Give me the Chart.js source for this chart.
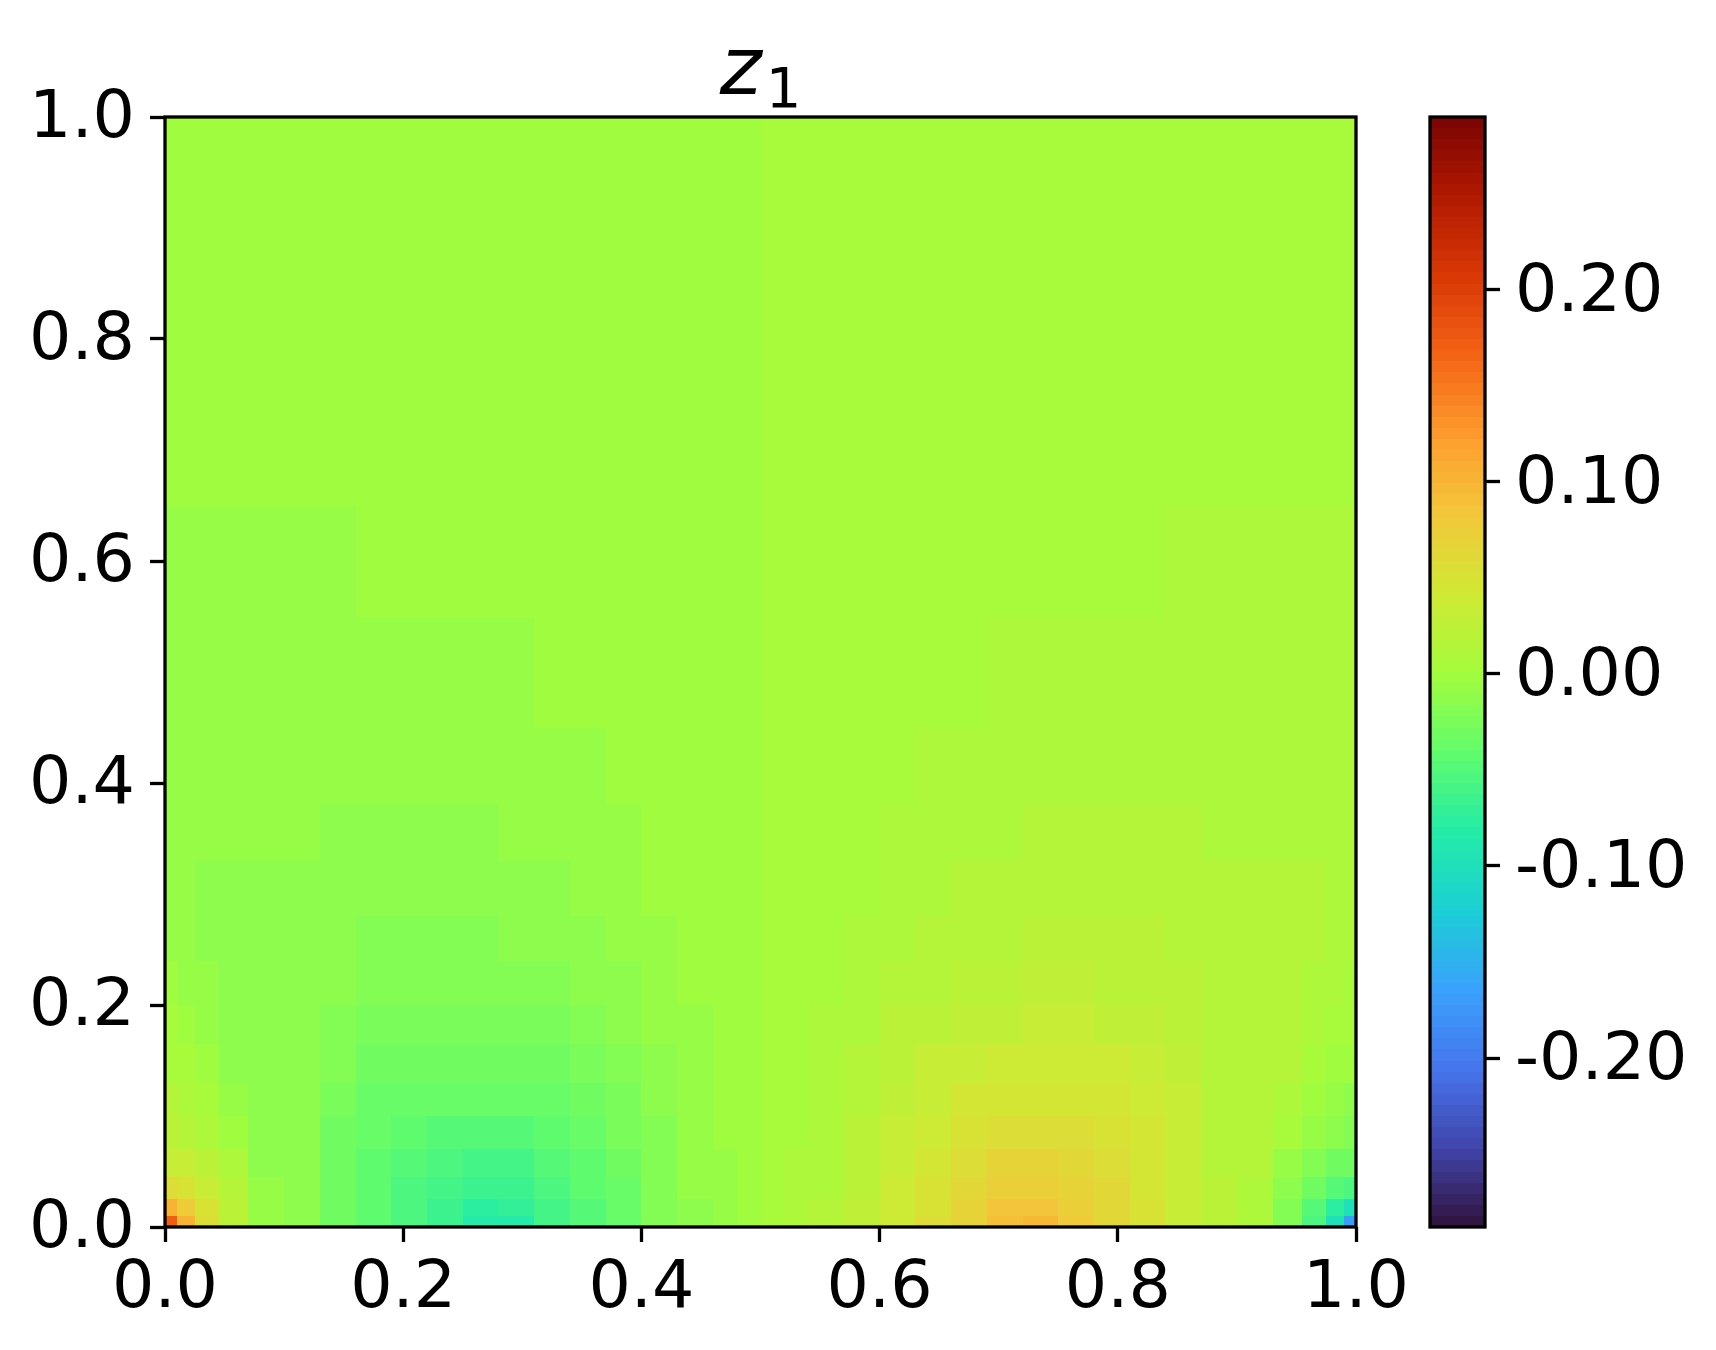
<!DOCTYPE html>
<html>
<head>
<meta charset="utf-8">
<script src="https://cdn.jsdelivr.net/npm/chart.js@4.4.1/dist/chart.umd.min.js"></script>
<style>
  html, body { margin: 0; padding: 0; background: #fff; }
  #wrap { position: relative; width: 1716px; height: 1350px; }
  canvas { position: absolute; top: 0; }
  #mainChart { left: 0; }
  #cbarChart { left: 1400px; }
</style>
</head>
<body>
<div id="wrap">
  <canvas id="mainChart" width="1440" height="1350"></canvas>
  <canvas id="cbarChart" width="316" height="1350"></canvas>
</div>
<script>
// --- DATA ---
// cell edges of the z1 field (non uniform, finer near the bottom and corners)
const xEdges = [0, 0.01, 0.025, 0.045, 0.07, 0.1, 0.13, 0.16, 0.19, 0.22, 0.25, 0.28, 0.31, 0.34, 0.37, 0.4, 0.43, 0.46, 0.48, 0.5,
                0.52, 0.54, 0.57, 0.6, 0.63, 0.66, 0.69, 0.72, 0.75, 0.78, 0.81, 0.84, 0.87, 0.9, 0.93, 0.955, 0.975, 0.99, 1.0];
const yEdges = [0, 0.01, 0.025, 0.045, 0.07, 0.1, 0.13, 0.165, 0.2, 0.24, 0.28, 0.33, 0.38, 0.45, 0.55, 0.65, 0.8, 1.0];
const xTicks = [0, 0.2, 0.4, 0.6, 0.8, 1.0];
const yTicks = [0, 0.2, 0.4, 0.6, 0.8, 1.0];
const cbarTicks = [-0.2, -0.1, 0, 0.1, 0.2];
const vMin = -0.288, vMax = 0.29, nLevels = 100;

// z1 values, one row per y band (bottom first), 38 cells per row (left -> right)
const z1 = [
  [0.17, 0.105, 0.055, 0.022, -0.007, -0.016, -0.030, -0.043, -0.055, -0.068, -0.084, -0.080, -0.060, -0.047, -0.036, -0.022, -0.011, -0.0065, -0.003,
   0.005, 0.0085, 0.014, 0.026, 0.041, 0.054, 0.068, 0.090, 0.095, 0.077, 0.062, 0.049, 0.035, 0.019, 0.009, -0.020, -0.053, -0.103, -0.168],
  [0.10, 0.080, 0.048, 0.020, -0.008, -0.016, -0.029, -0.042, -0.054, -0.066, -0.077, -0.073, -0.058, -0.046, -0.035, -0.021, -0.0108, -0.006, -0.003,
   0.005, 0.008, 0.0135, 0.025, 0.040, 0.053, 0.066, 0.082, 0.087, 0.075, 0.061, 0.048, 0.034, 0.019, 0.010, -0.018, -0.046, -0.078, -0.098],
  [0.055, 0.048, 0.035, 0.013, -0.010, -0.016, -0.029, -0.041, -0.052, -0.062, -0.067, -0.065, -0.054, -0.044, -0.034, -0.020, -0.0102, -0.0055, -0.003,
   0.005, 0.0075, 0.0125, 0.024, 0.039, 0.050, 0.061, 0.073, 0.076, 0.070, 0.059, 0.047, 0.034, 0.019, 0.012, -0.011, -0.033, -0.046, -0.053],
  [0.035, 0.031, 0.022, 0.007, -0.011, -0.015, -0.029, -0.040, -0.050, -0.056, -0.058, -0.057, -0.050, -0.040, -0.030, -0.019, -0.0092, -0.005, -0.003,
   0.005, 0.007, 0.0112, 0.023, 0.035, 0.046, 0.057, 0.065, 0.066, 0.064, 0.057, 0.046, 0.034, 0.018, 0.013, -0.005, -0.020, -0.029, -0.033],
  [0.021, 0.016, 0.008, -0.002, -0.012, -0.015, -0.028, -0.038, -0.045, -0.047, -0.048, -0.047, -0.043, -0.035, -0.027, -0.017, -0.0082, -0.0044, -0.0028,
   0.0048, 0.0064, 0.0102, 0.020, 0.032, 0.040, 0.049, 0.054, 0.055, 0.054, 0.051, 0.044, 0.033, 0.018, 0.014, 0.004, -0.006, -0.014, -0.019],
  [0.013, 0.010, 0.003, -0.010, -0.013, -0.015, -0.025, -0.035, -0.038, -0.039, -0.0393, -0.039, -0.036, -0.030, -0.024, -0.015, -0.0072, -0.004, -0.0027,
   0.0047, 0.006, 0.0092, 0.018, 0.028, 0.035, 0.042, 0.045, 0.045, 0.045, 0.044, 0.040, 0.030, 0.018, 0.015, 0.012, -0.001, -0.008, -0.011],
  [0.006, 0.003, -0.003, -0.012, -0.013, -0.014, -0.021, -0.029, -0.031, -0.032, -0.032, -0.031, -0.030, -0.025, -0.020, -0.0115, -0.0062, -0.0037, -0.0026,
   0.0046, 0.0057, 0.0082, 0.0135, 0.024, 0.030, 0.035, 0.036, 0.037, 0.037, 0.036, 0.034, 0.025, 0.0165, 0.015, 0.014, 0.005, -0.001, -0.004],
  [0.001, -0.001, -0.007, -0.012, -0.013, -0.013, -0.018, -0.024, -0.025, -0.026, -0.026, -0.025, -0.023, -0.020, -0.016, -0.0092, -0.0053, -0.0034, -0.0025,
   0.0045, 0.0054, 0.0073, 0.0112, 0.019, 0.024, 0.027, 0.029, 0.030, 0.030, 0.029, 0.028, 0.021, 0.015, 0.015, 0.014, 0.009, 0.003, 0.001],
  [-0.003, -0.005, -0.010, -0.012, -0.013, -0.013, -0.016, -0.020, -0.0205, -0.021, -0.021, -0.019, -0.019, -0.015, -0.012, -0.0072, -0.0045, -0.003, -0.0024,
   0.0044, 0.005, 0.0065, 0.0092, 0.014, 0.017, 0.022, 0.022, 0.025, 0.025, 0.024, 0.024, 0.0185, 0.015, 0.015, 0.014, 0.012, 0.007, 0.005],
  [-0.006, -0.0095, -0.011, -0.012, -0.012, -0.013, -0.014, -0.0165, -0.0168, -0.0167, -0.0168, -0.016, -0.0145, -0.012, -0.0085, -0.0058, -0.004, -0.003, -0.0023,
   0.0043, 0.005, 0.006, 0.0078, 0.0105, 0.014, 0.0165, 0.018, 0.019, 0.019, 0.019, 0.0185, 0.016, 0.015, 0.014, 0.014, 0.013, 0.0115, 0.008],
  [-0.0085, -0.0098, -0.0108, -0.0115, -0.012, -0.0125, -0.013, -0.0135, -0.014, -0.014, -0.014, -0.012, -0.0108, -0.0098, -0.0068, -0.0045, -0.0035, -0.003, -0.0022,
   0.0042, 0.005, 0.0055, 0.0065, 0.0088, 0.0118, 0.0128, 0.014, 0.016, 0.016, 0.016, 0.0155, 0.015, 0.0145, 0.014, 0.0135, 0.0128, 0.0118, 0.0105],
  [-0.0078, -0.0085, -0.009, -0.0095, -0.010, -0.0105, -0.011, -0.0112, -0.0112, -0.011, -0.011, -0.0098, -0.0088, -0.0078, -0.0058, -0.0042, -0.0033, -0.0028, -0.0022,
   0.0042, 0.0048, 0.0053, 0.0062, 0.0078, 0.0098, 0.0108, 0.0118, 0.013, 0.013, 0.0132, 0.0132, 0.013, 0.0125, 0.012, 0.0115, 0.011, 0.0105, 0.0098],
  [-0.007, -0.0075, -0.008, -0.0085, -0.009, -0.0092, -0.0094, -0.0095, -0.0095, -0.0093, -0.009, -0.0083, -0.0072, -0.006, -0.0045, -0.0037, -0.003, -0.0026, -0.0021,
   0.0041, 0.0046, 0.005, 0.0057, 0.0065, 0.008, 0.0092, 0.0103, 0.011, 0.0113, 0.0115, 0.0115, 0.0114, 0.0112, 0.011, 0.0105, 0.010, 0.0095, 0.009],
  [-0.0062, -0.0065, -0.0068, -0.007, -0.0072, -0.0073, -0.0073, -0.0072, -0.007, -0.0066, -0.006, -0.0053, -0.0045, -0.0038, -0.0033, -0.0029, -0.0026, -0.0023, -0.002,
   0.004, 0.0043, 0.0046, 0.0049, 0.0053, 0.0058, 0.0065, 0.0073, 0.008, 0.0086, 0.009, 0.0092, 0.0093, 0.0093, 0.0092, 0.009, 0.0088, 0.0085, 0.0082],
  [-0.0054, -0.0055, -0.0055, -0.0055, -0.0054, -0.0052, -0.005, -0.0047, -0.0044, -0.0041, -0.0038, -0.0035, -0.0032, -0.003, -0.0028, -0.0026, -0.0024, -0.0022, -0.002,
   0.004, 0.0042, 0.0044, 0.0046, 0.0048, 0.005, 0.0052, 0.0055, 0.0058, 0.0061, 0.0064, 0.0067, 0.007, 0.0072, 0.0074, 0.0075, 0.0075, 0.0075, 0.0074],
  [-0.0035, -0.0035, -0.0034, -0.0034, -0.0033, -0.0032, -0.0031, -0.003, -0.0029, -0.0028, -0.0027, -0.0026, -0.0025, -0.0024, -0.0023, -0.0022, -0.0021, -0.002, -0.0018,
   0.0038, 0.004, 0.0041, 0.0042, 0.0043, 0.0044, 0.0045, 0.0046, 0.0047, 0.0048, 0.0049, 0.005, 0.0051, 0.0052, 0.0053, 0.0054, 0.0054, 0.0055, 0.0055],
  [-0.0022, -0.0022, -0.0022, -0.0021, -0.0021, -0.0021, -0.002, -0.002, -0.002, -0.0019, -0.0019, -0.0019, -0.0018, -0.0018, -0.0018, -0.0017, -0.0017, -0.0016, -0.0016,
   0.0036, 0.0036, 0.0037, 0.0037, 0.0038, 0.0038, 0.0039, 0.0039, 0.004, 0.004, 0.004, 0.0041, 0.0041, 0.0041, 0.0041, 0.0041, 0.0042, 0.0042, 0.0042]
];

// --- COLORMAP (turbo, 15 stops) ---
const turboStops = ['#30123b', '#4145ab', '#4675ed', '#39a2fc', '#1bcfd4', '#24eca6', '#61fc6c', '#a4fc3b',
                    '#d1e834', '#f3c63a', '#fe9b2d', '#f36315', '#d93806', '#b11901', '#7a0403'];
const stopRgb = turboStops.map(h => [1, 3, 5].map(i => parseInt(h.substr(i, 2), 16)));

function turbo(t) {
  t = Math.min(1, Math.max(0, t));
  const p = t * (stopRgb.length - 1);
  const i = Math.min(stopRgb.length - 2, Math.floor(p)), f = p - i;
  const c = stopRgb[i].map((a, k) => Math.round(a + (stopRgb[i + 1][k] - a) * f));
  return `rgb(${c[0]},${c[1]},${c[2]})`;
}

// contourf-like: snap every value to one of nLevels bands
function levelColor(v) {
  let k = Math.floor((v - vMin) / (vMax - vMin) * nLevels);
  k = Math.min(nLevels - 1, Math.max(0, k));
  return turbo((k + 0.5) / nLevels);
}

const FONT = 'DejaVu Sans';
const LW = 3.3;
Chart.defaults.font.family = FONT;
Chart.defaults.color = '#000';

function tickGrid() {
  return { drawOnChartArea: false, drawTicks: true, tickLength: 15, tickWidth: LW, tickColor: '#000' };
}
function tickFont() { return { family: FONT, size: 66.67 }; }

function frame(chart) {
  const { ctx, chartArea: a } = chart;
  ctx.save();
  ctx.strokeStyle = '#000';
  ctx.lineWidth = LW;
  ctx.strokeRect(a.left, a.top, a.right - a.left, a.bottom - a.top);
  ctx.restore();
}

// --- HEATMAP ---
const heatmapPlugin = {
  id: 'heatmap',
  beforeDatasetsDraw(chart) {
    const { ctx, scales: { x, y } } = chart;
    ctx.save();
    z1.forEach((row, i) => {
      const yTop = Math.round(y.getPixelForValue(yEdges[i + 1]));
      const yBot = Math.round(y.getPixelForValue(yEdges[i]));
      row.forEach((v, j) => {
        const xl = Math.round(x.getPixelForValue(xEdges[j]));
        const xr = Math.round(x.getPixelForValue(xEdges[j + 1]));
        ctx.fillStyle = levelColor(v);
        ctx.fillRect(xl, yTop, xr - xl, yBot - yTop);
      });
    });
    ctx.restore();
  },
  afterDraw(chart) {
    frame(chart);
    // title z_1 (italic z, subscript 1)
    const { ctx, chartArea: a } = chart;
    ctx.save();
    ctx.fillStyle = '#000';
    ctx.textBaseline = 'alphabetic';
    ctx.font = `italic 80px ${FONT}`;
    const wz = ctx.measureText('z').width;
    ctx.font = `56px ${FONT}`;
    const w1 = ctx.measureText('1').width;
    const x0 = (a.left + a.right) / 2 - (wz + w1 + 4) / 2;
    ctx.font = `italic 80px ${FONT}`;
    ctx.fillText('z', x0, 94);
    ctx.font = `56px ${FONT}`;
    ctx.fillText('1', x0 + wz + 4, 107);
    ctx.restore();
  }
};

new Chart(document.getElementById('mainChart'), {
  type: 'scatter',
  data: { datasets: [{ data: [], pointRadius: 0 }] },
  options: {
    responsive: false, animation: false, devicePixelRatio: 1,
    layout: { padding: { left: 0, top: 117, right: 84, bottom: 0 } },
    plugins: { legend: { display: false }, tooltip: { enabled: false }, title: { display: false } },
    scales: {
      x: {
        type: 'linear', min: 0, max: 1,
        afterBuildTicks: s => { s.ticks = xTicks.map(v => ({ value: v })); },
        afterFit: s => { s.height = 123; },
        ticks: { callback: v => v.toFixed(1), font: tickFont(), color: '#000', padding: 8, maxRotation: 0, autoSkip: false },
        grid: tickGrid(),
        border: { display: false }
      },
      y: {
        type: 'linear', min: 0, max: 1,
        afterBuildTicks: s => { s.ticks = yTicks.map(v => ({ value: v })); },
        afterFit: s => { s.width = 165; },
        ticks: { callback: v => v.toFixed(1), font: tickFont(), color: '#000', padding: 15, labelOffset: 3, autoSkip: false },
        grid: tickGrid(),
        border: { display: false }
      }
    }
  },
  plugins: [heatmapPlugin]
});

// --- COLORBAR ---
const colorbarPlugin = {
  id: 'colorbar',
  beforeDatasetsDraw(chart) {
    const { ctx, chartArea: a, scales: { y } } = chart;
    const step = (vMax - vMin) / nLevels;
    ctx.save();
    for (let k = 0; k < nLevels; k++) {
      const yTop = Math.round(y.getPixelForValue(vMin + (k + 1) * step));
      const yBot = Math.round(y.getPixelForValue(vMin + k * step));
      ctx.fillStyle = turbo((k + 0.5) / nLevels);
      ctx.fillRect(a.left, yTop, a.right - a.left, yBot - yTop);
    }
    ctx.restore();
  },
  afterDraw(chart) { frame(chart); }
};

new Chart(document.getElementById('cbarChart'), {
  type: 'scatter',
  data: { datasets: [] },
  options: {
    responsive: false, animation: false, devicePixelRatio: 1,
    layout: { padding: { left: 30, top: 117, right: 0, bottom: 123 } },
    plugins: { legend: { display: false }, tooltip: { enabled: false } },
    scales: {
      x: { display: false, min: 0, max: 1 },
      y: {
        position: 'right', min: vMin, max: vMax,
        afterBuildTicks: s => { s.ticks = cbarTicks.map(v => ({ value: v })); },
        afterFit: s => { s.width = 231; },
        ticks: { callback: v => v.toFixed(2), font: tickFont(), color: '#000', padding: 15, labelOffset: 4, autoSkip: false },
        grid: tickGrid(),
        border: { display: false }
      }
    }
  },
  plugins: [colorbarPlugin]
});
</script>
</body>
</html>
